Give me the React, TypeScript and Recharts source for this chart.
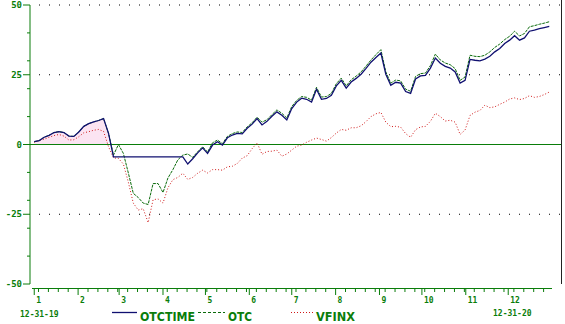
import { Area, ComposedChart, Line, ReferenceLine, XAxis, YAxis } from "recharts";

const GREEN = "#0a7d0a";
const NAVY = "#101070";
const DKGREEN = "#0b6b0b";
const RED = "#d01818";
const MONO = "'DejaVu Sans Mono', monospace";
const NARROW = "'Liberation Sans Narrow', 'DejaVu Sans Condensed', sans-serif";

// cumulative % change, sampled every 3.5 days from 12-31-19
const otc = [
  1.0, 1.4, 2.6, 3.3, 4.3, 4.6, 4.3, 3.0, 2.9, 4.5,
  6.5, 7.5, 8.1, 8.6, 9.3, 4.0, -3.8, 0.0, -3.2, -10.2,
  -17.5, -19.0, -21.0, -21.5, -14.0, -14.0, -17.2, -12.0, -9.0, -5.5,
  -3.8, -3.4, -4.6, -2.6, -0.8, -2.7, 0.6, 1.6, 0.3, 2.9,
  3.9, 4.5, 4.3, 6.3, 7.8, 9.8, 8.0, 8.9, 10.7, 12.4,
  11.2, 9.5, 13.6, 15.8, 17.2, 16.9, 15.9, 20.5, 17.0, 17.2,
  18.3, 21.8, 23.8, 21.0, 23.2, 24.5, 26.0, 28.1, 30.3, 32.2,
  34.0, 26.0, 22.0, 23.1, 22.8, 19.8, 19.1, 24.4, 25.4, 25.6,
  28.3, 32.4, 30.3, 29.2, 28.6, 27.2, 23.0, 24.2, 32.0, 31.6,
  31.5, 32.0, 33.2, 34.8, 36.0, 37.6, 38.8, 40.6, 38.9, 39.8,
  42.2, 42.6, 43.1, 43.5, 44.0,
];

const otctime = [
  1.0, 1.4, 2.6, 3.3, 4.3, 4.6, 4.3, 3.0, 2.9, 4.5,
  6.5, 7.5, 8.1, 8.6, 9.3, 4.0, -4.4, -4.4, -4.4, -4.4,
  -4.4, -4.4, -4.4, -4.4, -4.4, -4.4, -4.4, -4.4, -4.4, -4.4,
  -4.4, -7.0, -5.1, -3.0, -1.2, -3.2, -0.2, 1.0, -0.2, 2.4,
  3.4, 4.0, 3.8, 5.8, 7.3, 9.3, 7.0, 8.3, 10.1, 11.7,
  10.5, 8.8, 12.9, 15.2, 16.6, 16.2, 15.2, 19.8, 16.2, 16.5,
  17.6, 21.0, 23.0, 20.2, 22.4, 23.7, 25.2, 27.3, 29.5, 31.2,
  32.8, 25.2, 21.2, 22.3, 22.0, 19.0, 18.3, 23.5, 24.6, 24.8,
  27.4, 31.0, 29.1, 28.0, 27.4, 26.0, 22.0, 23.0, 30.5, 30.2,
  30.0, 30.6, 31.6, 33.2, 34.4, 36.2, 37.4, 39.0, 37.4, 38.2,
  40.6, 41.0, 41.5, 41.9, 42.3,
];

const vfinx = [
  0.8, 1.5, 1.9, 2.6, 3.2, 3.6, 3.0, 1.6, 1.7, 2.8,
  4.2, 4.6, 5.1, 5.4, 4.7, -0.8, -4.8, -5.0, -7.0, -13.5,
  -21.0, -23.5, -23.0, -28.0, -19.8, -19.5, -21.0, -15.5, -12.6, -11.8,
  -10.3, -12.5, -11.8, -10.3, -9.2, -10.2, -9.0, -9.0, -9.2, -8.0,
  -7.8, -6.8, -4.9, -4.0, -1.5, 0.6, -3.5, -2.5, -2.4, -2.0,
  -4.2, -3.4, -2.0, -0.6, -0.2, 0.8, 1.6, 2.3, 1.8, 1.2,
  2.5, 4.1, 5.4, 5.1, 6.0, 6.0, 6.7, 8.2, 10.0, 11.0,
  11.5, 8.0, 6.4, 6.5, 6.2, 3.9, 2.6, 5.3, 6.3, 6.5,
  8.3, 11.2, 10.0, 8.4, 8.7, 8.0, 3.6, 5.2, 10.4, 11.6,
  12.2, 14.1, 13.2, 13.5, 14.4, 15.2, 16.3, 16.7, 16.1, 16.5,
  17.5, 16.9, 17.2, 17.9, 18.8,
];

// day of year where each month starts (labels 1..12)
const monthStarts = [0, 31, 60, 91, 121, 152, 182, 213, 244, 274, 305, 335];
const fridays = Array.from({ length: 52 }, (_, k) => 3 + 7 * k).filter(
  (d) => !monthStarts.includes(d)
);
const xTicks = [...monthStarts, ...fridays].sort((a, b) => a - b);
const yTicks = [-50, -40, -30, -25, -20, -10, 0, 10, 20, 25, 30, 40, 50];

const data = otc.map((v, i) => ({
  day: i * 3.5,
  otc: v,
  otctime: otctime[i],
  vfinx: vfinx[i],
  shade: i <= 15 ? v : null,
}));

const XTick = (props: any) => {
  const { x, payload } = props;
  const m = monthStarts.indexOf(payload.value);
  const major = m >= 0;
  return (
    <g>
      <line x1={x} x2={x} y1={289} y2={major ? 295 : 292} stroke={GREEN} />
      {major && (
        <text x={x + 2} y={303} fill={GREEN} fontSize={8} fontWeight="bold" fontFamily={MONO}>
          {m + 1}
        </text>
      )}
    </g>
  );
};

const YTick = (props: any) => {
  const { y, payload } = props;
  const v = payload.value;
  const major = v % 25 === 0;
  return (
    <g>
      <line x1={major ? 23 : 27} x2={30} y1={y} y2={y} stroke={GREEN} />
      {major && (
        <text x={22} y={y} dy="0.35em" textAnchor="end" fill={GREEN} fontSize={9} fontWeight="bold" fontFamily={MONO}>
          {v}
        </text>
      )}
    </g>
  );
};

const legendText = { fill: GREEN, fontSize: 13, fontWeight: "bold", fontFamily: NARROW } as const;

export default function App() {
  return (
    <div style={{ position: "absolute", left: 0, top: 0, width: 565, height: 324, background: "#fff" }}>
      <ComposedChart width={565} height={324} data={data} margin={{ top: 5, right: 4, left: 0, bottom: 0 }}>
        <XAxis
          dataKey="day"
          type="number"
          domain={[-3, 372.3]}
          ticks={xTicks}
          interval={0}
          axisLine={false}
          tickLine={false}
          height={40}
          tick={<XTick />}
        />
        <YAxis
          domain={[-50, 50]}
          ticks={yTicks}
          interval={0}
          width={30}
          tickLine={false}
          axisLine={{ stroke: GREEN }}
          tick={<YTick />}
        />
        <Area
          dataKey="shade"
          type="linear"
          stroke="none"
          fill="#fbe4f2"
          fillOpacity={1}
          baseValue={0}
          isAnimationActive={false}
        />
        <ReferenceLine y={50} stroke="#000" strokeDasharray="1 9" strokeDashoffset={1} />
        <ReferenceLine y={25} stroke="#000" strokeDasharray="1 9" strokeDashoffset={1} />
        <ReferenceLine y={-25} stroke="#000" strokeDasharray="1 9" strokeDashoffset={1} />
        <ReferenceLine y={0} stroke={GREEN} />
        <Line dataKey="vfinx" type="linear" stroke={RED} strokeWidth={1} strokeDasharray="1 2" dot={false} isAnimationActive={false} />
        <Line dataKey="otc" type="linear" stroke={DKGREEN} strokeWidth={1} strokeDasharray="3 1" dot={false} isAnimationActive={false} />
        <Line dataKey="otctime" type="linear" stroke={NAVY} strokeWidth={1.3} dot={false} isAnimationActive={false} />
      </ComposedChart>
      <svg width={565} height={324} style={{ position: "absolute", left: 0, top: 0, pointerEvents: "none" }}>
        <line x1={32} x2={552} y1={288.5} y2={288.5} stroke={GREEN} />
        <line x1={561.5} x2={561.5} y1={0} y2={284} stroke="#222" />
        <text x={20} y={317} fill={GREEN} fontSize={8} fontWeight="bold" fontFamily={MONO}>12-31-19</text>
        <text x={493} y={316} fill={GREEN} fontSize={8} fontWeight="bold" fontFamily={MONO}>12-31-20</text>
        <line x1={112} x2={137} y1={312.5} y2={312.5} stroke={NAVY} strokeWidth={1.3} />
        <text x={140} y={321} textLength={55} lengthAdjust="spacingAndGlyphs" {...legendText}>OTCTIME</text>
        <line x1={198} x2={225} y1={312.5} y2={312.5} stroke={DKGREEN} strokeDasharray="3 2" />
        <text x={228} y={321} textLength={24} lengthAdjust="spacingAndGlyphs" {...legendText}>OTC</text>
        <line x1={291} x2={313} y1={312.5} y2={312.5} stroke={RED} strokeDasharray="1 2" />
        <text x={316} y={321} textLength={39} lengthAdjust="spacingAndGlyphs" {...legendText}>VFINX</text>
      </svg>
    </div>
  );
}
